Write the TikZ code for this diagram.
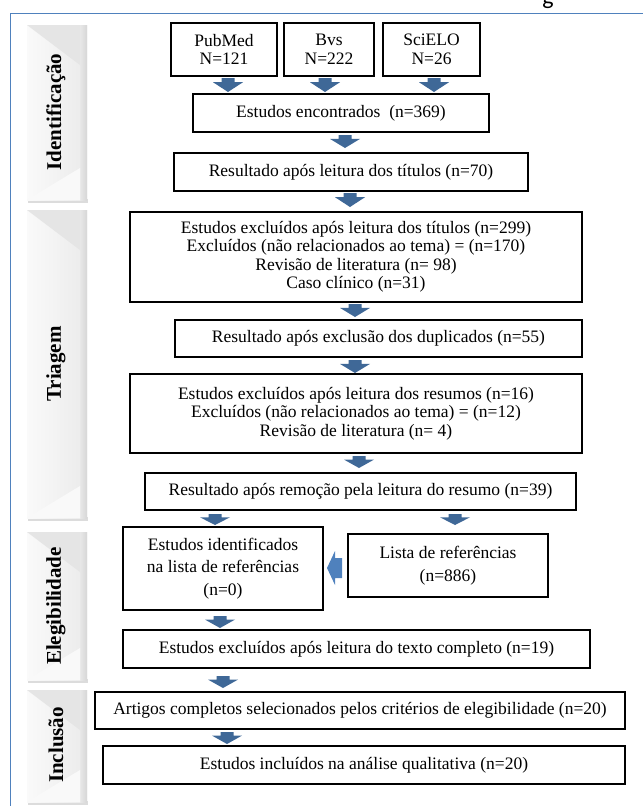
\documentclass[tikz,border=0pt]{standalone}
\usepackage{fontspec}
\setmainfont{Liberation Serif}
\newfontfamily\titlefont{Carlito}
\definecolor{frameblue}{HTML}{4F81BD}
\definecolor{arrblue}{HTML}{3F6897}
\definecolor{arrlight}{HTML}{4F81BD}
\newcommand\darr[3]{\fill[arrblue] (#1-6.5,#2) -- (#1+6.5,#2) -- (#1+6.5,#2+#3*0.3) -- (#1+15,#2+#3*0.3) -- (#1,#2+#3) -- (#1-15,#2+#3*0.3) -- (#1-6.5,#2+#3*0.3) -- cycle;}
\newcommand\tabbox[5]{%
  \fill[gray!50,opacity=0.55] (28,#3-1) rectangle (88,#3+3);
  \shade[left color=gray!4,right color=gray!16] (27,#2) rectangle (87,#3);
  \shade[left color=gray!18,right color=gray!32] (80,#2) rectangle (87,#3);
  \fill[gray!20] (27,#2) -- (80,#2) -- (80,#2+40) -- cycle;
  \fill[gray!5] (27,#3) -- (80,#3-32) -- (80,#3) -- cycle;
  \node[tabtext] (#1) at (56,#4) {#5};}
\begin{document}
\begin{tikzpicture}[x=1pt,y=-1pt,
  box/.style={draw=black,line width=1.1pt,fill=white,align=center,inner sep=0pt,
    font=\fontsize{17.5}{18.5}\selectfont},
  tabtext/.style={font=\bfseries\fontsize{21}{24}\selectfont,rotate=90,inner sep=0pt}]
\useasboundingbox (0,0) rectangle (643,806);
% cut title
\node[anchor=base,font=\titlefont\fontsize{24}{24}\selectfont,inner sep=0pt] (title) at (548,4) {g};
% frame
\draw[frameblue,line width=0.9pt] (10,806) -- (10,13) -- (643,13);
% side tabs
\tabbox{tIdent}{25}{200}{112}{Identificação}
\tabbox{tTri}{210}{518}{364}{Triagem}
\tabbox{tEleg}{532}{680}{606}{Elegibilidade}
\tabbox{tIncl}{690}{802}{745}{Inclusão}
% boxes
\node[box,minimum width=106,minimum height=53] (pub) at (224,49.5) {PubMed\\N=121};
\node[box,minimum width=90,minimum height=53] (bvs) at (329,49.5) {Bvs\\N=222};
\node[box,minimum width=97,minimum height=53] (sci) at (431.5,49.5) {SciELO\\N=26};
\node[box,minimum width=296,minimum height=38] (enc) at (341,113) {Estudos encontrados\ \ (n=369)};
\node[box,minimum width=354,minimum height=38] (tit) at (351,172) {Resultado após leitura dos títulos (n=70)};
\node[box,minimum width=452,minimum height=90] (exc1) at (356,257) {Estudos excluídos após leitura dos títulos (n=299)\\Excluídos (não relacionados ao tema) = (n=170)\\Revisão de literatura (n= 98)\\Caso clínico (n=31)};
\node[box,minimum width=407,minimum height=37] (dup) at (378.5,338.5) {Resultado após exclusão dos duplicados (n=55)};
\node[box,minimum width=452,minimum height=79] (exc2) at (356,413.5) {Estudos excluídos após leitura dos resumos (n=16)\\Excluídos (não relacionados ao tema) = (n=12)\\Revisão de literatura (n= 4)};
\node[box,minimum width=431,minimum height=37] (rem) at (360.5,491.5) {Resultado após remoção pela leitura do resumo (n=39)};
\node[box,minimum width=200,minimum height=83,font=\fontsize{17.5}{22.5}\selectfont] (ident) at (223,568.5) {Estudos identificados\\na lista de referências\\(n=0)};
\node[box,minimum width=200,minimum height=63,font=\fontsize{17.5}{23}\selectfont] (lista) at (448,565.5) {Lista de referências\\(n=886)};
\node[box,minimum width=467,minimum height=38] (exc3) at (356.5,649) {Estudos excluídos após leitura do texto completo (n=19)};
\node[box,minimum width=530,minimum height=37] (art) at (360,710.5) {Artigos completos selecionados pelos critérios de elegibilidade (n=20)};
\node[box,minimum width=522,minimum height=38] (incl) at (364,765) {Estudos incluídos na análise qualitativa (n=20)};
% block arrows
\darr{228}{78}{14}
\darr{325}{78}{14}
\darr{434}{78}{14}
\darr{345}{135}{13}
\darr{350}{193}{14}
\darr{355}{304}{13}
\darr{355}{360}{13}
\darr{359}{456}{12}
\darr{215}{514}{11}
\darr{455}{514}{11}
\darr{220}{616}{12}
\darr{223}{676}{12}
\darr{227}{732}{12}
% left arrow from lista to ident
\fill[arrlight] (327,568) -- (335,551) -- (335,558) -- (342,558) -- (342,578) -- (335,578) -- (335,585) -- cycle;
\end{tikzpicture}
\end{document}
